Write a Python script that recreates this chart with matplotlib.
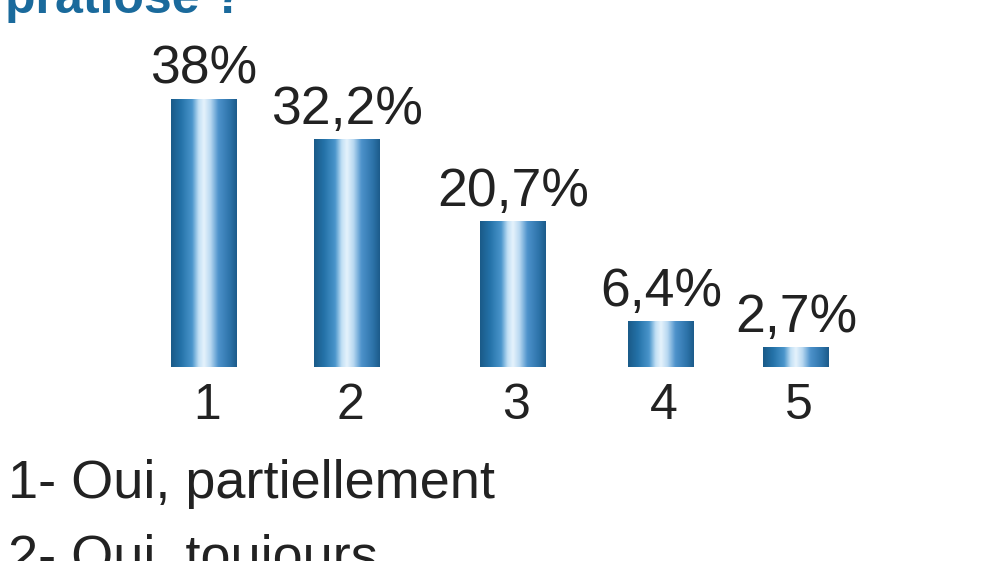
import numpy as np
import matplotlib
matplotlib.use("Agg")
from matplotlib import pyplot as plt
from matplotlib.colors import LinearSegmentedColormap

categories = ["1", "2", "3", "4", "5"]
values = [38.0, 32.2, 20.7, 6.4, 2.7]
value_labels = ["38%", "32,2%", "20,7%", "6,4%", "2,7%"]
legend_lines = ["1- Oui, partiellement", "2- Oui, toujours"]
title = "pratiose ?"

# layout (pixel-ish x positions of the bars, as in the original)
xpos = [204, 347, 513, 661, 796]
bar_w = 66

plt.rcParams["font.family"] = ["Liberation Sans", "DejaVu Sans"]

fig = plt.figure(figsize=(10, 5.61), dpi=100)
ax = fig.add_axes([0, 0, 1, 1])
px = 7.05  # pixels per percent
ax.axis("off")

cmap = LinearSegmentedColormap.from_list("cyl", [
    (0.0, "#1a5a88"), (0.15, "#2472a8"), (0.32, "#4a95cb"),
    (0.42, "#c2e0f5"), (0.5, "#e6f3fc"), (0.6, "#b8d8f1"),
    (0.72, "#4d92cb"), (0.9, "#2c72a8"), (1.0, "#1c5b8a")])
grad = np.linspace(0, 1, 256).reshape(1, -1)

bars = ax.bar(xpos, values, width=bar_w, color="none", edgecolor="none")
for b in bars:
    x0, y0 = b.get_x(), b.get_y()
    ax.imshow(grad, cmap=cmap, aspect="auto", interpolation="bicubic",
              extent=(x0, x0 + b.get_width(), y0, y0 + b.get_height()), zorder=2)
ax.set_xlim(0, 1000)
ax.set_ylim(-(561 - 367) / px, 367 / px)

for x, v, lab in zip(xpos, values, value_labels):
    ax.text(x, v + 2.2, lab, ha="center", va="baseline", fontsize=38.5, color="#222222")

for x, c in zip(xpos, categories):
    ax.text(x + 3, -7.4, c, ha="center", va="baseline", fontsize=36, color="#222222")

fig.text(0.008, 1 - 498 / 561, legend_lines[0], ha="left", va="baseline",
         fontsize=39, color="#222222")
fig.text(0.008, 1 - 573 / 561, legend_lines[1], ha="left", va="baseline",
         fontsize=39, color="#222222")

fig.text(0.005, 1 - 13 / 561, title, ha="left", va="baseline", fontsize=36,
         fontweight="bold", color="#1a6a9c")

fig.savefig("out.png", dpi=100)
